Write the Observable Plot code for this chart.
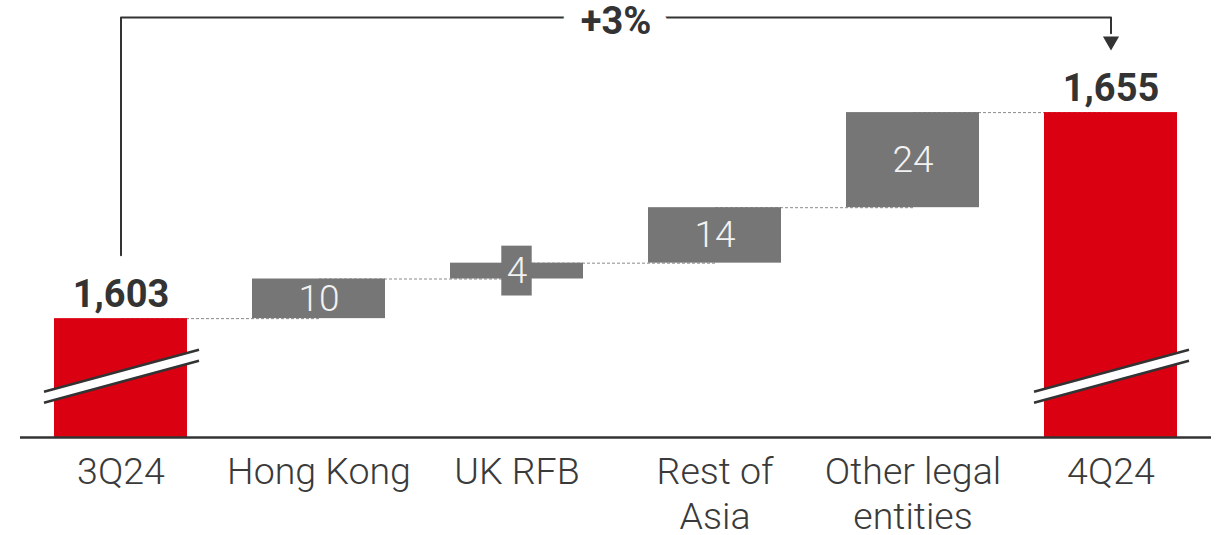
<!DOCTYPE html>
<html>
<head>
<meta charset="utf-8">
<script src="https://cdn.jsdelivr.net/npm/d3@7"></script>
<script src="https://cdn.jsdelivr.net/npm/@observablehq/plot@0.6"></script>
<style>
  html, body { margin: 0; padding: 0; background: #fff; }
  #chart { width: 1223px; height: 535px; }
</style>
</head>
<body>
<div id="chart"></div>
<script>
// ---- data ----
const categories = ["3Q24", "Hong Kong", "UK RFB", "Rest of Asia", "Other legal entities", "4Q24"];
const tickLabels = ["3Q24", "Hong Kong", "UK RFB", "Rest of\nAsia", "Other legal\nentities", "4Q24"];
const startTotal = 1603;
const deltas = [10, 4, 14, 24];
const endTotal = 1655;
const axisBase = 1573;          // broken-axis baseline value
const axisTop = 1679;           // level of the comparison bracket
const bracketStart = 1619;      // bottom of bracket's left leg
const arrowLevel = 1673;        // arrowhead position
const breakLeft = 1584.4, breakRight = 1595; // axis-break slash (value at left / right end)

const red = "#DB0011", gray = "#767676", ink = "#333333";

// ---- derived rows ----
const rows = [];
rows.push({cat: categories[0], y1: axisBase, y2: startTotal, kind: "total", label: d3.format(",")(startTotal)});
let cum = startTotal;
deltas.forEach((d, i) => {
  rows.push({cat: categories[i + 1], y1: cum, y2: cum + d, kind: "delta", label: String(d)});
  cum += d;
});
rows.push({cat: categories[5], y1: axisBase, y2: endTotal, kind: "total", label: d3.format(",")(endTotal)});

const connectors = rows.slice(0, -1).map((r, i) => ({from: r.cat, to: rows[i + 1].cat, y: r.y2}));
const totals = rows.filter(r => r.kind === "total");
const deltaRows = rows.filter(r => r.kind === "delta");
const smallRows = deltaRows.filter(r => Math.abs(r.y2 - r.y1) < 6);
const pct = "+" + Math.round((endTotal / startTotal - 1) * 100) + "%";
const bracket = [
  {x: categories[0], y: bracketStart},
  {x: categories[0], y: axisTop},
  {x: categories[5], y: axisTop},
  {x: categories[5], y: arrowLevel + 2}
];

const labelOf = new Map(categories.map((c, i) => [c, tickLabels[i]]));

const chart = Plot.plot({
  width: 1223,
  height: 535,
  marginLeft: 21,
  marginRight: 14,
  marginTop: 17,
  marginBottom: 98,
  style: {fontFamily: "Roboto, 'Liberation Sans', sans-serif", background: "#fff", overflow: "visible"},
  x: {domain: categories, paddingInner: 0.33, paddingOuter: 0.165, label: null},
  y: {domain: [axisBase, axisTop], axis: null},
  marks: [
    Plot.link(connectors, {x1: "from", x2: "to", y1: "y", y2: "y", stroke: "#8a8a8a", strokeWidth: 1, strokeDasharray: "3,2"}),
    Plot.barY(rows, {x: "cat", y1: "y1", y2: "y2", fill: d => d.kind === "total" ? red : gray}),
    Plot.barY(smallRows, {x: "cat", y1: "y1", y2: "y2", fill: gray, insetLeft: 51.3, insetRight: 51.3, insetTop: -17, insetBottom: -17}),
    Plot.text(deltaRows, {x: "cat", y: d => (d.y1 + d.y2) / 2, text: "label", fill: "#f2f2f2", fontSize: 37, fontWeight: 300}),
    Plot.text(totals, {x: "cat", y: "y2", text: "label", lineAnchor: "bottom", dy: -12, fill: ink, fontSize: 38, fontWeight: 700}),
    Plot.ruleY([axisBase], {stroke: ink, strokeWidth: 2.5, insetLeft: -1, insetRight: -2}),
    Plot.line(bracket, {x: "x", y: "y", stroke: ink, strokeWidth: 2}),
    Plot.dot([{x: categories[5], y: arrowLevel}], {x: "x", y: "y", symbol: "triangle", rotate: 180, r: 6, fill: ink, stroke: null}),
    Plot.text([{x: categories[3], y: axisTop}], {x: "x", y: "y", text: () => pct, dx: -99, dy: 4, fontSize: 38, fontWeight: 700, fill: ink, stroke: "white", strokeWidth: 36, strokeLinejoin: "round"}),
    Plot.axisX({tickSize: 0, tickPadding: 15, tickFormat: d => labelOf.get(d), fontSize: 37.5, fontWeight: 300, fill: "#3a3a3a", lineHeight: 1.2, label: null})
  ]
});

// axis-break slashes on the total bars, positioned with the plot's own scales
const xs = chart.scale("x"), ys = chart.scale("y");
const svg = d3.select(chart.tagName.toLowerCase() === "svg" ? chart : chart.querySelector("svg"));
const g = svg.append("g");
const thick = 11;
totals.forEach(t => {
  const x0 = xs.apply(t.cat) - 10, x1 = xs.apply(t.cat) + xs.bandwidth + 12;
  const yl = ys.apply(breakLeft), yr = ys.apply(breakRight);
  g.append("polygon")
    .attr("points", `${x0},${yl} ${x1},${yr} ${x1},${yr + thick} ${x0},${yl + thick}`)
    .attr("fill", "#fff");
  [0, thick].forEach(o => g.append("line")
    .attr("x1", x0).attr("y1", yl + o).attr("x2", x1).attr("y2", yr + o)
    .attr("stroke", ink).attr("stroke-width", 2.5));
});

document.getElementById("chart").appendChild(chart);
</script>
</body>
</html>
